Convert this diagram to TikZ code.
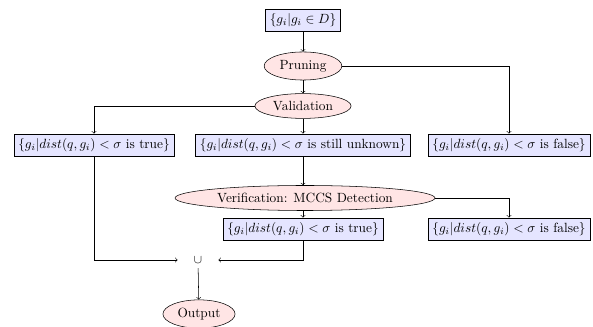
\documentclass[tikz,border=0pt]{standalone}
\usepackage{amsmath,amssymb}
\usetikzlibrary{shapes.geometric}

\begin{document}
\begin{tikzpicture}[x=0.75pt, y=-0.75pt,
        setbox/.style={draw, fill=blue!10, rectangle},
        stepnode/.style={draw, fill=red!10, ellipse, inner sep=3pt},
        >=to]

                \useasboundingbox (0,0) rectangle (593,327);

                % Input and filtering steps
                \node[setbox] (input) at (303,20) {$\{g_i|g_i \in D\}$};
                \node[stepnode] (prune) at (303,66) {Pruning};
                \node[stepnode] (valid) at (303,106) {Validation};

                % Candidate sets
                \node[setbox] (true1) at (94,145) {$\{g_i|dist(q,g_i) < \sigma$ is true$\}$};
                \node[setbox] (unknown) at (303,145) {$\{g_i|dist(q,g_i) < \sigma$ is still unknown$\}$};
                \node[setbox] (false1) at (509,145) {$\{g_i|dist(q,g_i) < \sigma$ is false$\}$};

                % Verification
                \node[stepnode] (verify) at (305,198) {Verification: MCCS Detection};
                \node[setbox] (true2) at (303,229) {$\{g_i|dist(q,g_i) < \sigma$ is true$\}$};
                \node[setbox] (false2) at (509,229) {$\{g_i|dist(q,g_i) < \sigma$ is false$\}$};

                % Union and output
                \node[inner xsep=12pt] (union) at (198,260) {\small$\cup$};
                \node[stepnode] (output) at (199,314) {Output};

                \draw[->] (input) -- (prune);
                \draw[->] (prune) -- (valid);
                \draw[->] (prune.east) -| (false1.north);
                \draw[->] (valid.west) -| (true1.north);
                \draw[->] (valid) -- (unknown);
                \draw[->] (unknown) -- (unknown |- verify.north);
                \draw[->] (unknown |- verify.south) -- (true2);
                \draw[->] (verify.east) -| (false2.north);

                \draw[->] (true1.south) |- (union.west);
                \draw[->] (true2.south) |- (union.east);
                \draw[->] (union) -- (output);

            \end{tikzpicture}
\end{document}
